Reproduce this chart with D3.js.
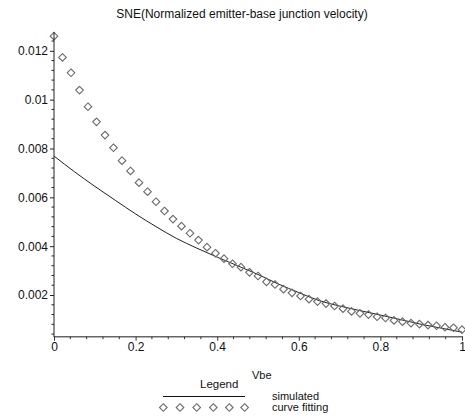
<!DOCTYPE html>
<html><head><meta charset="utf-8">
<script src="https://cdn.jsdelivr.net/npm/d3@7"></script>
<style>html,body{margin:0;padding:0;background:#fff;} svg{display:block;font-family:"Liberation Sans",Arial,sans-serif;}</style>
</head><body>
<svg id="c" width="465" height="419"></svg>
<script>
const title = "SNE(Normalized emitter-base junction velocity)";
const xLabel = "Vbe";
const legendTitle = "Legend";
const seriesNames = ["simulated", "curve fitting"];
// simulated points (diamonds)
const simX = [0,0.0208,0.0417,0.0625,0.0833,0.1042,0.125,0.1458,0.1667,0.1875,0.2083,0.2292,0.25,0.2708,0.2917,0.3125,0.3333,0.3542,0.375,0.3958,0.4167,0.4375,0.4583,0.4792,0.5,0.5208,0.5417,0.5625,0.5833,0.6042,0.625,0.6458,0.6667,0.6875,0.7083,0.7292,0.75,0.7708,0.7917,0.8125,0.8333,0.8542,0.875,0.8958,0.9167,0.9375,0.9583,0.9792,1];
const simY = [0.0126,0.01173,0.0111,0.01039,0.00971,0.00909,0.00855,0.00803,0.0075,0.00708,0.0066,0.00623,0.00582,0.00544,0.00511,0.00482,0.00453,0.00425,0.00396,0.00371,0.00349,0.00328,0.00314,0.00293,0.00278,0.00254,0.00243,0.00224,0.00209,0.00196,0.00183,0.00173,0.00165,0.00155,0.00144,0.00133,0.00125,0.0012,0.00111,0.00106,0.00096,0.00091,0.00085,0.00081,0.00077,0.00074,0.00068,0.00066,0.00058];
// fitted curve samples
const fitX = [0,0.05,0.1,0.15,0.2,0.25,0.3,0.35,0.4,0.45,0.5,0.55,0.6,0.65,0.7,0.75,0.8,0.85,0.9,0.95,1];
const fitY = [0.00769,0.00705,0.00645,0.00588,0.00532,0.0048,0.00432,0.00392,0.00355,0.0032,0.00284,0.00245,0.0021,0.00177,0.00155,0.00136,0.00118,0.00099,0.0008,0.00064,0.00048];
const xTicks = [0,0.2,0.4,0.6,0.8,1];
const xTickLabels = ["0","0.2","0.4","0.6","0.8","1"];
const yTicks = [0.002,0.004,0.006,0.008,0.01,0.012];
const yTickLabels = ["0.002","0.004","0.006","0.008","0.01","0.012"];
const xMinor = [0.04,0.08,0.12,0.16,0.24,0.28,0.32,0.36,0.44,0.48,0.52,0.56,0.64,0.68,0.72,0.76,0.84,0.88,0.92,0.96];
const yMinor = [0.0004,0.0008,0.0012,0.0016,0.0024,0.0028,0.0032,0.0036,0.0044,0.0048,0.0052,0.0056,0.0064,0.0068,0.0072,0.0076,0.0084,0.0088,0.0092,0.0096,0.0104,0.0108,0.0112,0.0116,0.0124];

const svg = d3.select("#c");
const x = d3.scaleLinear().domain([0,1]).range([54,462]);
const y = d3.scaleLinear().domain([0.000293,0.01277]).range([336.7,32]);

// title
svg.append("text").attr("x",242).attr("y",18).attr("text-anchor","middle")
  .attr("font-size",12).attr("fill","#111").text(title);

// fitted curve
const line = d3.line().x((d,i)=>x(fitX[i])).y(d=>y(d)).curve(d3.curveMonotoneX);
svg.append("path").attr("d",line(fitY)).attr("fill","none").attr("stroke","#222").attr("stroke-width",1);

// diamonds
function diamond(g, cx, cy){
  g.append("path").attr("d", `M${cx},${cy-3.8}L${cx+3.8},${cy}L${cx},${cy+3.8}L${cx-3.8},${cy}Z`)
   .attr("fill","none").attr("stroke","#6a6a6a").attr("stroke-width",1.1);
}
const dg = svg.append("g");
simY.forEach((v,i)=>diamond(dg, x(simX[i]), y(v)));

// x axis
const xa = svg.append("g").attr("transform","translate(0,336.7)");
xa.call(d3.axisBottom(x).tickValues(xTicks).tickFormat((d,i)=>xTickLabels[i]).tickSize(4).tickPadding(2));
xa.select(".domain").attr("stroke","#666").attr("stroke-width",1.5).attr("d","M54,0H463");
xa.selectAll("line").attr("stroke","#333");
xa.selectAll("text").attr("font-size",12).attr("fill","#111").attr("font-family","Liberation Sans, Arial, sans-serif");
xa.selectAll(".mx").data(xMinor).enter().append("line").attr("x1",d=>x(d)).attr("x2",d=>x(d)).attr("y1",0).attr("y2",2.5).attr("stroke","#333");

// y axis
const ya = svg.append("g").attr("transform","translate(54,0)");
ya.call(d3.axisLeft(y).tickValues(yTicks).tickFormat((d,i)=>yTickLabels[i]).tickSize(4).tickPadding(2));
ya.select(".domain").attr("stroke","#222").attr("d","M0,337H0V32");
ya.selectAll("line").attr("stroke","#222");
ya.selectAll("text").attr("font-size",12).attr("fill","#111").attr("font-family","Liberation Sans, Arial, sans-serif");
ya.selectAll(".my").data(yMinor).enter().append("line").attr("y1",d=>y(d)).attr("y2",d=>y(d)).attr("x1",0).attr("x2",-2.5).attr("stroke","#222");

// legend
svg.append("text").attr("x",252).attr("y",379).attr("font-size",11).attr("fill","#111").text(xLabel);
svg.append("text").attr("x",200).attr("y",388).attr("font-size",11.5).attr("fill","#111").text(legendTitle);
svg.append("line").attr("x1",163).attr("x2",245).attr("y1",396.5).attr("y2",396.5).attr("stroke","#111");
const lg = svg.append("g");
[163.3,180,196.7,213.3,229.3,244.6].forEach(cx=>diamond(lg,cx,407.5));
svg.append("text").attr("x",272).attr("y",399.5).attr("font-size",11).attr("fill","#111").text(seriesNames[0]);
svg.append("text").attr("x",272).attr("y",410.5).attr("font-size",11).attr("fill","#111").text(seriesNames[1]);
</script>
</body></html>
